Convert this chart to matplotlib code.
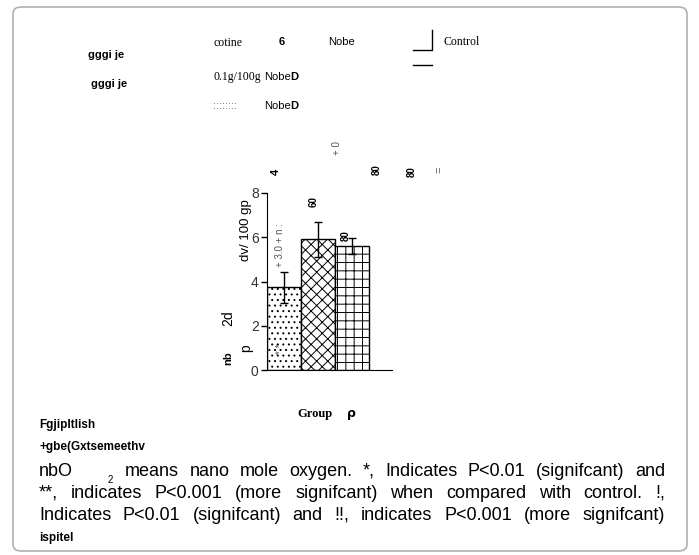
import matplotlib
matplotlib.use("Agg")
import matplotlib.pyplot as plt
import matplotlib.patches as mpatches

W, H = 699, 555

# data
groups = ["Nicotine", "Nicotine + Noble", "Control"]
means = [3.75, 5.9, 5.6]
errors = [0.7, 0.8, 0.35]
hatches = ["...", "xxx", "++"]
yticks = [0, 2, 4, 6, 8]

caption_lines = [
    "means nano mole oxygen. *, Indicates P<0.01 (signifcant) and",
    "**, indicates P<0.001 (more signifcant) when compared with control. !,",
    "Indicates P<0.01 (signifcant) and !!, indicates P<0.001 (more signifcant)",
]

plt.rcParams["hatch.linewidth"] = 0.7
fig = plt.figure(figsize=(W / 100, H / 100), dpi=100)


def px(x, y):
    return x / W, 1 - y / H


# rounded frame around the figure
fig.patches.append(mpatches.FancyBboxPatch(
    (13 / W, 1 - 551 / H), 674 / W, 544 / H,
    boxstyle="round,pad=0,rounding_size=0.012",
    transform=fig.transFigure, facecolor="none",
    edgecolor="#b0b0b0", linewidth=1.2))

# bar chart
ax = fig.add_axes([267 / W, 1 - 370 / H, 125 / W, 177 / H])
xs = [0, 1, 2]
for x, m, e, h in zip(xs, means, errors, hatches):
    ax.bar(x, m, width=1, align="edge", facecolor="white",
           edgecolor="black", hatch=h, linewidth=1.0)
    ax.errorbar(x + 0.5, m, yerr=e, color="black", capsize=3,
                elinewidth=1, capthick=1)
ax.set_xlim(0, 3.68)
ax.set_ylim(0, 8)
ax.set_yticks(yticks)
ax.set_yticklabels([str(t) for t in yticks], fontsize=10,
                   family="Liberation Sans", color="#333333")
ax.set_xticks([])
ax.tick_params(axis="y", direction="out", length=4, width=1, pad=2)
for s in ["top", "right"]:
    ax.spines[s].set_visible(False)
ax.spines["left"].set_bounds(0, 8)

ax.text(1.4, -2.0, "Group", fontsize=9, fontweight="bold",
        family="Liberation Serif", ha="center", va="center")
ax.text(2.5, -1.95, "ρ", fontsize=9, fontweight="bold",
        family="DejaVu Sans", ha="center", va="center")

# y label fragments
fig.text(*px(246, 230), "dv/ 100 gp", rotation=90, fontsize=9.5,
         family="Liberation Sans", ha="center", va="center")
fig.text(*px(228, 318), "2d", rotation=90, fontsize=10,
         family="Liberation Sans", ha="center", va="center")
fig.text(*px(246, 348), "p", rotation=90, fontsize=10,
         family="Liberation Sans", ha="center", va="center")
fig.text(*px(228, 358), "nb", rotation=90, fontsize=8, fontweight="bold",
         family="Liberation Sans", ha="center", va="center")

# labels over the bars
fig.text(*px(280, 245), "+ 3.0 + n :", rotation=90, fontsize=7,
         family="Liberation Sans", color="#555555", ha="center", va="center")
fig.text(*px(281, 349), "* *", rotation=90, fontsize=7,
         family="Liberation Sans", color="#555555", ha="center", va="center")
fig.text(*px(276, 172), "4", rotation=90, fontsize=8, fontweight="bold",
         family="Liberation Sans", ha="center", va="center")
fig.text(*px(314, 202), "60", rotation=90, fontsize=7, fontweight="bold",
         family="Liberation Sans", ha="center", va="center")
fig.text(*px(337, 148), "+ 0", rotation=90, fontsize=7,
         family="Liberation Sans", color="#555555", ha="center", va="center")
fig.text(*px(346, 236), "80", rotation=90, fontsize=7, fontweight="bold",
         family="Liberation Sans", ha="center", va="center")
fig.text(*px(377, 170), "80", rotation=90, fontsize=7, fontweight="bold",
         family="Liberation Sans", ha="center", va="center")
fig.text(*px(412, 172), "80", rotation=90, fontsize=7, fontweight="bold",
         family="Liberation Sans", ha="center", va="center")
fig.text(*px(440, 170), "=", rotation=90, fontsize=8,
         family="Liberation Sans", color="#555555", ha="center", va="center")

# legend block at the top
serif = dict(family="Liberation Serif", fontsize=8.5, va="center")
sans = dict(family="Liberation Sans", fontsize=8, va="center")
fig.text(*px(88, 55), "gggi je", fontweight="bold", **sans)
fig.text(*px(91, 84), "gggi je", fontweight="bold", **sans)
fig.text(*px(213, 43), "cotine", **serif)
fig.text(*px(279, 42), "6", fontweight="bold", **sans)
fig.text(*px(328, 42), "Nobe", **sans)
fig.text(*px(443, 42), "Control", **serif)
fig.text(*px(213, 77), "0.1g/100g", **serif)
fig.text(*px(264, 77), "Nobe", **sans)
fig.text(*px(290, 77), "D", fontweight="bold", **sans)
fig.text(*px(213, 106), "::::::::", color="#666666", **sans)
fig.text(*px(264, 106), "Nobe", **sans)
fig.text(*px(290, 106), "D", fontweight="bold", **sans)
fig.add_artist(plt.Line2D([413 / W, 432 / W, 432 / W],
                          [1 - 50 / H, 1 - 50 / H, 1 - 30 / H],
                          color="black", lw=1))
fig.add_artist(plt.Line2D([413 / W, 432 / W], [1 - 65 / H, 1 - 65 / H],
                          color="black", lw=1))

# caption
small_bold = dict(fontweight="bold", family="Liberation Sans", fontsize=8.5,
                  va="center")
fig.text(*px(39, 425), "Fgjipltlish", **small_bold)
fig.text(*px(39, 447), "+gbe(Gxtsemeethv", **small_bold)
fig.text(*px(39, 538), "ispitel", **small_bold)
fig.text(*px(39, 476), "nbO", family="Liberation Sans", fontsize=13,
         va="baseline")
fig.text(*px(108, 480), "2", family="Liberation Sans", fontsize=7,
         va="center")

renderer = fig.canvas.get_renderer()


def justify(line, x0, x1, y):
    words = line.split(" ")
    texts = [fig.text(0, 0, w, family="Liberation Sans", fontsize=13,
                      va="baseline") for w in words]
    widths = [t.get_window_extent(renderer).width for t in texts]
    gap = (x1 - x0 - sum(widths)) / (len(words) - 1)
    x = x0
    for t, w in zip(texts, widths):
        t.set_position(px(x, y))
        x += w + gap


justify(caption_lines[0], 125, 665, 476)
justify(caption_lines[1], 39, 665, 498)
justify(caption_lines[2], 39, 665, 520)

plt.savefig("out.png", dpi=100)
